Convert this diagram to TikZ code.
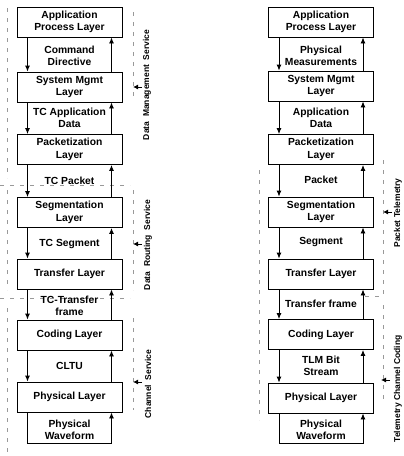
\documentclass[tikz,border=0pt]{standalone}
\usepackage{fontspec}
\setmainfont{Liberation Sans}
\usetikzlibrary{arrows.meta}
\begin{document}
\begin{tikzpicture}[x=1pt,y=-1pt,
 layerbox/.style={draw, line width=0.9pt, minimum width=105pt, minimum height=30pt, inner sep=0pt, align=center, font=\bfseries\fontsize{10.3}{12.5}\selectfont},
 lbl/.style={align=center, inner sep=0pt, font=\bfseries\fontsize{10.3}{12.5}\selectfont},
 side/.style={rotate=90, inner sep=0pt, font=\bfseries\fontsize{8.5}{9}\selectfont},
 flow/.style={line width=0.9pt, -{Latex[length=6pt,width=5pt]}},
 sidearrow/.style={line width=0.9pt, -{Latex[length=5pt,width=5pt]}},
 grp/.style={gray!80, line width=0.6pt, dash pattern=on 4pt off 6pt}]
\useasboundingbox (0,0) rectangle (404,456);

% group boundaries (dashed)
\draw[grp] (7,8) -- (7,178);
\draw[grp] (0,185) -- (130,185);
\draw[grp] (7,190) -- (7,290);
\draw[grp] (0,298) -- (130,298);
\draw[grp] (7,308) -- (7,452);
\draw[grp] (133,12) -- (133,100);
\draw[grp] (133,190) -- (133,290);
\draw[grp] (133,318) -- (133,410);
\draw[grp] (259,170) -- (259,420);
\draw[grp] (383,160) -- (383,296);
\draw[grp] (365,296) -- (383,296);
\draw[grp] (383,305) -- (383,400);

% left column
\node[layerbox] (lapp)  at (69.5,22)  {Application\\Process Layer};
\node[layerbox] (lsys)  at (69.5,87)  {System Mgmt\\Layer};
\node[layerbox] (lpack) at (69.5,149.5) {Packetization\\Layer};
\node[layerbox] (lseg)  at (69.5,212.5) {Segmentation\\Layer};
\node[layerbox] (ltr)   at (69.5,274) {Transfer Layer};
\node[layerbox] (lcod)  at (69.5,335) {Coding Layer};
\node[layerbox] (lphy)  at (69.5,397) {Physical Layer};

\node[lbl] (l1) at (69.5,56)  {Command\\Directive};
\node[lbl] (l2) at (69.5,118) {TC Application\\Data};
\node[lbl] (l3) at (69.5,181) {TC Packet};
\node[lbl] (l4) at (69.5,244) {TC Segment};
\node[lbl] (l5) at (69.5,306) {TC-Transfer\\frame};
\node[lbl] (l6) at (69.5,366) {CLTU};
\node[lbl] (l7) at (69.5,430) {Physical\\Waveform};

\foreach \a/\b in {lapp/lsys, lsys/lpack, lpack/lseg, lseg/ltr, ltr/lcod, lcod/lphy}{
  \draw[flow] ([xshift=-42pt]\a.south) -- ([xshift=-42pt]\b.north);
  \draw[flow] ([xshift=42pt]\b.north) -- ([xshift=42pt]\a.south);
}
\draw[flow] ([xshift=-42pt]lphy.south) -- ++(0,31) -- ++(84,0) -- ([xshift=42pt]lphy.south);

% right column
\node[layerbox] (rapp)  at (321,22)  {Application\\Process Layer};
\node[layerbox] (rsys)  at (321,86)  {System Mgmt\\Layer};
\node[layerbox] (rpack) at (321,149.5) {Packetization\\Layer};
\node[layerbox] (rseg)  at (321,212) {Segmentation\\Layer};
\node[layerbox] (rtr)   at (321,274) {Transfer Layer};
\node[layerbox] (rcod)  at (321,334.5) {Coding Layer};
\node[layerbox] (rphy)  at (321,398) {Physical Layer};

\node[lbl] (r1) at (321,56)  {Physical\\Measurements};
\node[lbl] (r2) at (321,118) {Application\\Data};
\node[lbl] (r3) at (321,180) {Packet};
\node[lbl] (r4) at (321,242) {Segment};
\node[lbl] (r5) at (321,304) {Transfer frame};
\node[lbl] (r6) at (321,366) {TLM Bit\\Stream};
\node[lbl] (r7) at (321,430) {Physical\\Waveform};

\foreach \a/\b in {rapp/rsys, rsys/rpack, rpack/rseg, rseg/rtr, rtr/rcod, rcod/rphy}{
  \draw[flow] ([xshift=-42pt]\a.south) -- ([xshift=-42pt]\b.north);
  \draw[flow] ([xshift=42pt]\b.north) -- ([xshift=42pt]\a.south);
}
\draw[flow] ([xshift=-42pt]rphy.south) -- ++(0,30) -- ++(84,0) -- ([xshift=42pt]rphy.south);

% side labels
\node[side] (s1) at (147,85)  {Data\ \ Management\ \ Service};
\node[side] (s2) at (148,245) {Data\ \ Routing\ \ Service};
\node[side] (s3) at (148,384) {Channel\ \ Service};
\node[side] (s4) at (398,213) {Packet Telemetry};
\node[side] (s5) at (398,389) {Telemetry Channel Coding};

\coordinate (a1t) at (142,87);  \coordinate (a1h) at (133,87);
\coordinate (a2t) at (142,244); \coordinate (a2h) at (133,244);
\coordinate (a3t) at (142,382); \coordinate (a3h) at (133,382);
\coordinate (a4t) at (392,212); \coordinate (a4h) at (383,212);
\coordinate (a5t) at (390,380); \coordinate (a5h) at (381,380);
\foreach \t/\h in {a1t/a1h,a2t/a2h,a3t/a3h,a4t/a4h,a5t/a5h}
  \draw[sidearrow] (\t) -- (\h);
\end{tikzpicture}
\end{document}
